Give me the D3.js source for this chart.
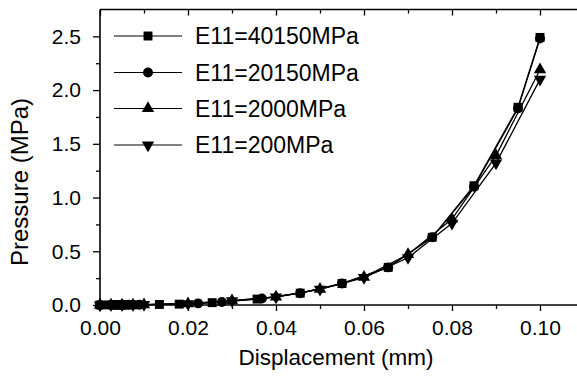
<!DOCTYPE html>
<html>
<head>
<meta charset="utf-8">
<script src="https://cdn.jsdelivr.net/npm/d3@7"></script>
<style>
  body { margin: 0; background: #fff; }
  svg text { font-family: "Liberation Sans", Arial, Helvetica, sans-serif; fill: #000; }
</style>
</head>
<body>
<div id="chart"></div>
<script>
// values
const seriesNames = ["E11=40150MPa", "E11=20150MPa", "E11=2000MPa", "E11=200MPa"];
const seriesSymbols = ["square", "circle", "triangle", "triangleDown"];

const dispSquare = [0, 0.002, 0.003, 0.004, 0.005, 0.006, 0.007, 0.008, 0.0135, 0.018, 0.0255, 0.0357, 0.0455, 0.055, 0.0655, 0.0755, 0.085, 0.095, 0.1];
const presSquare = [0, 0.001, 0.001, 0.001, 0.001, 0.002, 0.002, 0.002, 0.005, 0.008, 0.022, 0.055, 0.11, 0.2, 0.35, 0.63, 1.11, 1.84, 2.49];

const dispCircle = [0, 0.0025, 0.0035, 0.0045, 0.0055, 0.0065, 0.009, 0.0223, 0.0277, 0.0368, 0.0455, 0.055, 0.0655, 0.0755, 0.085, 0.095, 0.1];
const presCircle = [0, 0.001, 0.001, 0.001, 0.001, 0.002, 0.002, 0.015, 0.028, 0.06, 0.11, 0.2, 0.35, 0.63, 1.1, 1.83, 2.48];

const dispTri = [0, 0.0025, 0.005, 0.0075, 0.01, 0.02, 0.03, 0.04, 0.05, 0.06, 0.07, 0.08, 0.09, 0.1];
const presTriUp = [0, 0.001, 0.001, 0.002, 0.003, 0.012, 0.04, 0.075, 0.147, 0.26, 0.47, 0.80, 1.39, 2.19];
const presTriDown = [0, 0.001, 0.001, 0.002, 0.003, 0.012, 0.04, 0.074, 0.145, 0.255, 0.44, 0.76, 1.32, 2.10];

const xTicks = [0, 0.02, 0.04, 0.06, 0.08, 0.10];
const xMinor = [0.01, 0.03, 0.05, 0.07, 0.09, 0.11];
const yTicks = [0, 0.5, 1.0, 1.5, 2.0, 2.5];
const yMinor = [0.25, 0.75, 1.25, 1.75, 2.25];

const width = 577, height = 377;
const mLeft = 100, mTop = 9.5, mBottom = 305;

const svg = d3.select("#chart").append("svg")
  .attr("width", width)
  .attr("height", height);

const x = d3.scaleLinear().domain([0, 0.11]).range([mLeft, mLeft + 484]);
const y = d3.scaleLinear().domain([0, 2.75]).range([mBottom, mTop]);

const series = [
  {disp: dispSquare, pres: presSquare},
  {disp: dispCircle, pres: presCircle},
  {disp: dispTri, pres: presTriUp},
  {disp: dispTri, pres: presTriDown}
].map((s, i) => ({
  name: seriesNames[i],
  symbol: seriesSymbols[i],
  points: s.disp.map((d, j) => [d, s.pres[j]])
}));

// axes
const bottomAxis = d3.axisBottom(x).tickValues(xTicks).tickSize(6).tickPadding(9)
  .tickFormat(d3.format(".2f"));
const bottomMinor = d3.axisBottom(x).tickValues(xMinor).tickSize(4).tickFormat("");
const topAxis = d3.axisBottom(x).tickValues(xTicks).tickSize(6).tickFormat("");
const topMinor = d3.axisBottom(x).tickValues(xMinor).tickSize(4).tickFormat("");
const leftAxis = d3.axisLeft(y).tickValues(yTicks).tickSize(7).tickPadding(12)
  .tickFormat(d3.format(".1f"));
const leftMinor = d3.axisLeft(y).tickValues(yMinor).tickSize(4).tickFormat("");

function styleAxis(g) {
  g.select(".domain").remove();
  g.selectAll("line").attr("stroke", "#000").attr("stroke-width", 1.3);
  g.selectAll("text").style("font-size", "21px");
}

svg.append("g").attr("transform", `translate(0,${mBottom})`).call(bottomAxis).call(styleAxis);
svg.append("g").attr("transform", `translate(0,${mBottom})`).call(bottomMinor).call(styleAxis);
svg.append("g").attr("transform", `translate(0,${mTop})`).call(topAxis).call(styleAxis);
svg.append("g").attr("transform", `translate(0,${mTop})`).call(topMinor).call(styleAxis);
svg.append("g").attr("transform", `translate(${mLeft},0)`).call(leftAxis).call(styleAxis);
svg.append("g").attr("transform", `translate(${mLeft},0)`).call(leftMinor).call(styleAxis);

// frame lines (left, top, bottom; right side is cut off)
svg.append("line").attr("x1", mLeft).attr("x2", mLeft).attr("y1", mTop).attr("y2", mBottom)
  .attr("stroke", "#000").attr("stroke-width", 1.6);
svg.append("line").attr("x1", mLeft).attr("x2", width).attr("y1", mTop).attr("y2", mTop)
  .attr("stroke", "#000").attr("stroke-width", 1.3);
svg.append("line").attr("x1", mLeft).attr("x2", width).attr("y1", mBottom).attr("y2", mBottom)
  .attr("stroke", "#000").attr("stroke-width", 1.3);

// axis titles
svg.append("text")
  .attr("x", 336).attr("y", 365)
  .attr("text-anchor", "middle")
  .style("font-size", "22.5px")
  .text("Displacement (mm)");

svg.append("text")
  .attr("transform", "translate(28,182) rotate(-90)")
  .attr("text-anchor", "middle")
  .style("font-size", "24px")
  .text("Pressure (MPa)");

// markers
const symbolTypes = {
  square: d3.symbolSquare,
  circle: d3.symbolCircle,
  triangle: d3.symbolTriangle,
  triangleDown: d3.symbolTriangle
};
const symbolSizes = {square: 80, circle: 78, triangle: 66, triangleDown: 66};

function drawSymbol(g, kind, cx, cy) {
  g.append("path")
    .attr("d", d3.symbol().type(symbolTypes[kind]).size(symbolSizes[kind])())
    .attr("transform", `translate(${cx},${cy})` + (kind === "triangleDown" ? " rotate(180)" : ""))
    .attr("fill", "#000");
}

const line = d3.line().x(d => x(d[0])).y(d => y(d[1]));

const plot = svg.append("g");
series.forEach(s => {
  plot.append("path")
    .datum(s.points)
    .attr("d", line)
    .attr("fill", "none")
    .attr("stroke", "#000")
    .attr("stroke-width", 1.3);
});
series.forEach(s => {
  const g = plot.append("g");
  s.points.forEach(p => drawSymbol(g, s.symbol, x(p[0]), y(p[1])));
});

// legend
const legendRows = [36, 72.5, 108.5, 145];
series.forEach((s, i) => {
  const g = svg.append("g").attr("transform", `translate(0,${legendRows[i]})`);
  g.append("line").attr("x1", 114).attr("x2", 182).attr("y1", 0).attr("y2", 0)
    .attr("stroke", "#000").attr("stroke-width", 1);
  drawSymbol(g, s.symbol, 148, 0);
  g.append("text").attr("x", 195).attr("y", 8)
    .style("font-size", "23px")
    .text(s.name);
});
</script>
</body>
</html>
